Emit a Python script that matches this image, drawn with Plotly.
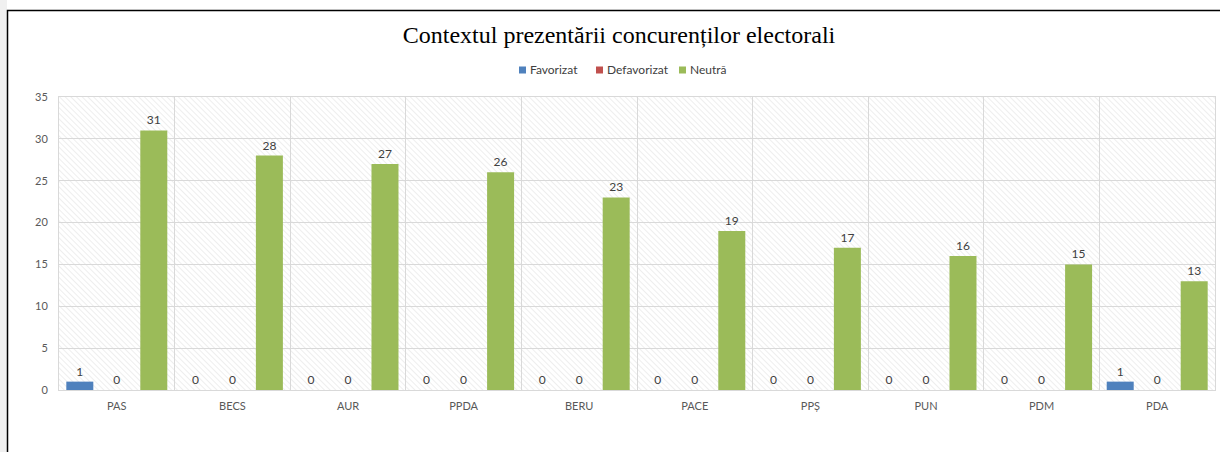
import base64
import plotly.graph_objects as go

# Chart data
categories = ["PAS", "BECS", "AUR", "PPDA", "BERU", "PACE", "PPȘ", "PUN", "PDM", "PDA"]
favorizat = [1, 0, 0, 0, 0, 0, 0, 0, 0, 1]
defavorizat = [0, 0, 0, 0, 0, 0, 0, 0, 0, 0]
neutra = [31, 28, 27, 26, 23, 19, 17, 16, 15, 13]

series_names = ["Favorizat", "Defavorizat", "Neutră"]
series_values = [favorizat, defavorizat, neutra]
series_colors = ["#4F81BD", "#C0504D", "#9BBB59"]

W, H = 1220, 452
L, R, T, B = 59, 5, 97, 62
pw, ph = W - L - R, H - T - B

# Light diagonal hatch used as plot background
hatch_svg = f"""<svg xmlns='http://www.w3.org/2000/svg' width='{pw}' height='{ph}'>
<defs><pattern id='h' width='4' height='4' patternUnits='userSpaceOnUse' patternTransform='rotate(-45)'>
<line x1='0' y1='0' x2='0' y2='4' stroke='#e2e2e2' stroke-width='1.2'/></pattern></defs>
<rect width='100%' height='100%' fill='white'/>
<rect width='100%' height='100%' fill='url(#h)'/></svg>"""
hatch_uri = "data:image/svg+xml;base64," + base64.b64encode(hatch_svg.encode()).decode()

fig = go.Figure()
for name, vals, color in zip(series_names, series_values, series_colors):
    fig.add_trace(
        go.Bar(
            x=categories,
            y=vals,
            name=name,
            marker=dict(color=color, line=dict(width=0)),
            text=vals,
            textposition="outside",
            textfont=dict(size=12, color="#404040", family="Lato"),
            cliponaxis=False,
            showlegend=False,
        )
    )


def px_x(p):
    return (p - L) / pw


def px_y(p):
    return 1 - (p - T) / ph


# compact legend like the original: small squares + labels
legend_x = [519, 596, 679]
legend_shapes = []
legend_annots = []
for lx, name, color in zip(legend_x, series_names, series_colors):
    legend_shapes.append(
        dict(type="rect", xref="paper", yref="paper",
             x0=px_x(lx), x1=px_x(lx + 7), y0=px_y(73.5), y1=px_y(66.5),
             fillcolor=color, line=dict(width=0))
    )
    legend_annots.append(
        dict(text=name, xref="paper", yref="paper", x=px_x(lx + 9), y=px_y(70),
             xanchor="left", yanchor="middle", showarrow=False,
             font=dict(size=12, color="#404040"))
    )

fig.update_layout(
    width=W,
    height=H,
    margin=dict(l=L, r=R, t=T, b=B),
    barmode="group",
    bargap=0.04,
    bargroupgap=0.27,
    paper_bgcolor="white",
    plot_bgcolor="rgba(0,0,0,0)",
    font=dict(family="Lato", size=11, color="#595959"),
    title=dict(
        text="Contextul prezentării concurenților electorali",
        x=px_x(619),
        xref="paper",
        xanchor="center",
        y=1 - 35 / H,
        yanchor="middle",
        font=dict(family="Liberation Serif", size=24, color="#000000"),
    ),
    annotations=legend_annots,
    images=[
        dict(
            source=hatch_uri,
            xref="paper",
            yref="paper",
            x=0,
            y=1,
            sizex=1,
            sizey=1,
            sizing="stretch",
            layer="below",
        )
    ],
    shapes=[
        # grey strip on the left edge of the page
        dict(type="rect", xref="paper", yref="paper", x0=px_x(-5), x1=px_x(7),
             y0=px_y(-5), y1=px_y(460), fillcolor="#f0f0f0", line=dict(width=0), layer="below"),
        # chart frame
        dict(type="rect", xref="paper", yref="paper", x0=px_x(7.5), x1=px_x(1240),
             y0=px_y(470), y1=px_y(10.5), line=dict(color="#000000", width=1.5),
             fillcolor="rgba(0,0,0,0)"),
    ] + legend_shapes,
)

fig.update_xaxes(
    type="category",
    tickson="boundaries",
    ticks="",
    ticklabelstandoff=6,
    showgrid=True,
    gridcolor="#d9d9d9",
    showline=True,
    linecolor="#d9d9d9",
    mirror=True,
    tickfont=dict(size=11, color="#595959"),
)
fig.update_yaxes(
    range=[0, 35],
    dtick=5,
    showgrid=True,
    gridcolor="#d9d9d9",
    zeroline=False,
    showline=True,
    linecolor="#d9d9d9",
    mirror=True,
    ticks="outside",
    ticklen=8,
    tickcolor="rgba(0,0,0,0)",
    tickfont=dict(size=11, color="#595959"),
)

fig.write_html(
    "out.html",
    config={"displayModeBar": False},
    post_script="document.body.style.margin='0px';",
)
